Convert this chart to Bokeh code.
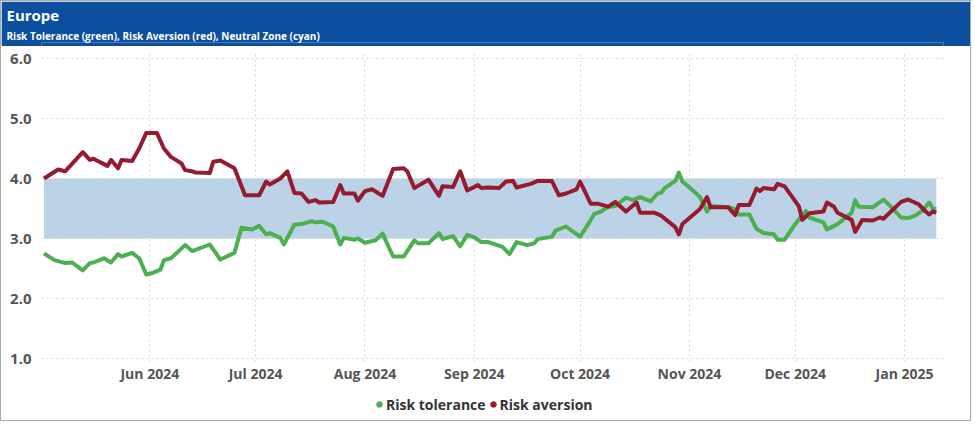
from bokeh.plotting import figure
from bokeh.layouts import column
from bokeh.models import (Range1d, DatetimeTickFormatter, MonthsTicker, FixedTicker,
                          Legend, LegendItem, NumeralTickFormatter, Title)
from bokeh.embed import file_html
from bokeh.resources import INLINE
import pandas as pd

# ---------------- data ----------------
title_text = "Europe"
subtitle_text = "Risk Tolerance (green), Risk Aversion (red), Neutral Zone (cyan)"
y_ticks = [1, 2, 3, 4, 5, 6]
neutral_low = 3.0
neutral_high = 4.0
x_start = "2024-05-01 07:00"
x_end = "2025-01-12 01:00"

red_dates = [
    "2024-05-02", "2024-05-06", "2024-05-08", "2024-05-13", "2024-05-15", "2024-05-16", "2024-05-20",
    "2024-05-21", "2024-05-23", "2024-05-24", "2024-05-27", "2024-05-29", "2024-05-31",
    "2024-06-03", "2024-06-05", "2024-06-07", "2024-06-10", "2024-06-11", "2024-06-13", "2024-06-14",
    "2024-06-18", "2024-06-19", "2024-06-21", "2024-06-25", "2024-06-28",
    "2024-07-02", "2024-07-04", "2024-07-05", "2024-07-08", "2024-07-10", "2024-07-12", "2024-07-14",
    "2024-07-16", "2024-07-18", "2024-07-19", "2024-07-23", "2024-07-25", "2024-07-26", "2024-07-29", "2024-07-30",
    "2024-08-01", "2024-08-03", "2024-08-06", "2024-08-09", "2024-08-12", "2024-08-13", "2024-08-15",
    "2024-08-19", "2024-08-22", "2024-08-23", "2024-08-26", "2024-08-28", "2024-08-30",
    "2024-09-02", "2024-09-03", "2024-09-05", "2024-09-08", "2024-09-10", "2024-09-12", "2024-09-13",
    "2024-09-17", "2024-09-19", "2024-09-23", "2024-09-25", "2024-09-27", "2024-09-30",
    "2024-10-01", "2024-10-04", "2024-10-06", "2024-10-09", "2024-10-11", "2024-10-14", "2024-10-17",
    "2024-10-18", "2024-10-22", "2024-10-24", "2024-10-28", "2024-10-29", "2024-10-30",
    "2024-11-04", "2024-11-06", "2024-11-07", "2024-11-12", "2024-11-14", "2024-11-15", "2024-11-18",
    "2024-11-20", "2024-11-21", "2024-11-22", "2024-11-25", "2024-11-26", "2024-11-28",
    "2024-12-02", "2024-12-03", "2024-12-05", "2024-12-09", "2024-12-10", "2024-12-12", "2024-12-13",
    "2024-12-17", "2024-12-18", "2024-12-20", "2024-12-23", "2024-12-25", "2024-12-26", "2024-12-31",
    "2025-01-02", "2025-01-05", "2025-01-07", "2025-01-08", "2025-01-09", "2025-01-10",
]
red_vals = [
    4.00, 4.15, 4.12, 4.44, 4.31, 4.33, 4.21,
    4.31, 4.17, 4.31, 4.29, 4.50, 4.76,
    4.76, 4.50, 4.36, 4.25, 4.14, 4.12, 4.10,
    4.09, 4.28, 4.30, 4.17, 3.72,
    3.72, 3.95, 3.90, 4.00, 4.12, 3.76, 3.75,
    3.61, 3.64, 3.60, 3.61, 3.89, 3.75, 3.75, 3.63,
    3.79, 3.82, 3.71, 4.16, 4.17, 4.12, 3.84,
    3.98, 3.71, 3.87, 3.86, 4.12, 3.80,
    3.89, 3.84, 3.85, 3.84, 3.95, 3.96, 3.85,
    3.91, 3.96, 3.96, 3.72, 3.75, 3.82,
    3.95, 3.58, 3.58, 3.53, 3.61, 3.45, 3.60,
    3.43, 3.43, 3.38, 3.19, 3.07, 3.24,
    3.49, 3.69, 3.52, 3.52, 3.39, 3.56, 3.56,
    3.83, 3.79, 3.84, 3.82, 3.91, 3.87,
    3.54, 3.31, 3.42, 3.45, 3.60, 3.53, 3.43,
    3.31, 3.11, 3.31, 3.30, 3.35, 3.33, 3.61,
    3.65, 3.57, 3.45, 3.40, 3.45, 3.43,
]

green_dates = [
    "2024-05-02", "2024-05-05", "2024-05-08", "2024-05-10", "2024-05-13", "2024-05-15", "2024-05-16",
    "2024-05-19", "2024-05-21", "2024-05-23", "2024-05-24", "2024-05-27", "2024-05-29", "2024-05-31",
    "2024-06-02", "2024-06-04", "2024-06-05", "2024-06-07", "2024-06-11", "2024-06-13", "2024-06-18",
    "2024-06-21", "2024-06-25", "2024-06-27", "2024-06-30",
    "2024-07-02", "2024-07-04", "2024-07-05", "2024-07-08", "2024-07-09", "2024-07-12", "2024-07-14",
    "2024-07-17", "2024-07-18", "2024-07-20", "2024-07-23", "2024-07-25", "2024-07-26", "2024-07-29", "2024-07-30",
    "2024-08-01", "2024-08-04", "2024-08-06", "2024-08-09", "2024-08-12", "2024-08-15", "2024-08-16",
    "2024-08-19", "2024-08-22", "2024-08-23", "2024-08-26", "2024-08-28", "2024-08-30",
    "2024-09-01", "2024-09-03", "2024-09-05", "2024-09-09", "2024-09-11", "2024-09-13",
    "2024-09-16", "2024-09-18", "2024-09-19", "2024-09-23", "2024-09-24", "2024-09-27",
    "2024-10-01", "2024-10-03", "2024-10-05", "2024-10-07", "2024-10-09", "2024-10-11", "2024-10-14",
    "2024-10-16", "2024-10-18", "2024-10-21", "2024-10-23", "2024-10-24", "2024-10-25", "2024-10-28",
    "2024-10-29", "2024-10-30",
    "2024-11-02", "2024-11-04", "2024-11-06", "2024-11-07", "2024-11-12", "2024-11-14", "2024-11-15",
    "2024-11-18", "2024-11-20", "2024-11-21", "2024-11-22", "2024-11-25", "2024-11-26", "2024-11-28",
    "2024-12-01", "2024-12-04", "2024-12-05", "2024-12-09", "2024-12-10", "2024-12-13", "2024-12-17",
    "2024-12-18", "2024-12-19", "2024-12-23", "2024-12-26", "2024-12-28", "2024-12-31",
    "2025-01-02", "2025-01-04", "2025-01-06", "2025-01-08", "2025-01-09", "2025-01-10",
]
green_vals = [
    2.75, 2.64, 2.59, 2.60, 2.47, 2.59, 2.60,
    2.67, 2.60, 2.74, 2.70, 2.76, 2.67, 2.40,
    2.43, 2.48, 2.64, 2.67, 2.89, 2.79, 2.90,
    2.65, 2.76, 3.18, 3.15,
    3.21, 3.07, 3.09, 3.01, 2.90, 3.23, 3.24,
    3.29, 3.27, 3.28, 3.20, 2.90, 3.01, 2.98, 3.00,
    2.93, 2.97, 3.08, 2.70, 2.70, 2.97, 2.92,
    2.92, 3.09, 2.99, 3.04, 2.87, 3.06,
    3.02, 2.94, 2.94, 2.86, 2.74, 2.94,
    2.89, 2.92, 2.99, 3.03, 3.13, 3.20,
    3.03, 3.21, 3.41, 3.45, 3.53, 3.54, 3.68,
    3.64, 3.69, 3.62, 3.75, 3.76, 3.84, 3.96,
    4.10, 3.95,
    3.80, 3.69, 3.45, 3.54, 3.52, 3.49, 3.40,
    3.40, 3.16, 3.13, 3.09, 3.07, 2.98, 2.98,
    3.24, 3.46, 3.35, 3.27, 3.15, 3.24, 3.43,
    3.64, 3.53, 3.52, 3.65, 3.54, 3.35,
    3.34, 3.38, 3.46, 3.60, 3.50, 3.49,
]

# ---------------- styles ----------------
FONT = "Open Sans"
BLUE = "#0b4f9e"
RED = "#971b2f"
GREEN = "#4caf50"
BAND = "#bcd2e6"
W = 969
TOP_H = 45
MAIN_H = 339
LEG_H = 35
LEFT = 40
RIGHT = 27

red_x = pd.to_datetime(red_dates)
green_x = pd.to_datetime(green_dates)

# ---------------- title bar ----------------
top = figure(width=W, height=TOP_H, x_range=Range1d(0, 1), y_range=Range1d(0, 1),
             toolbar_location=None, output_backend="svg", min_border=0,
             x_axis_location=None, y_axis_location=None,
             outline_line_color=None, background_fill_color=BLUE, border_fill_color=BLUE)
top.grid.visible = False
top.add_layout(Title(text=subtitle_text, align="left", offset=-(LEFT - 5), standoff=0,
                     text_font=FONT, text_font_size="10px", text_font_style="bold",
                     text_color="white"), "above")
top.add_layout(Title(text=title_text, align="left", offset=-(LEFT - 5), standoff=3,
                     text_font=FONT, text_font_size="15px", text_font_style="bold",
                     text_color="white"), "above")

# ---------------- main chart ----------------
p = figure(width=W, height=MAIN_H, x_axis_type="datetime",
           x_range=Range1d(pd.Timestamp(x_start), pd.Timestamp(x_end)),
           y_range=Range1d(0.95, 6.1),
           toolbar_location=None, output_backend="svg",
           min_border_left=LEFT, min_border_right=RIGHT, min_border_top=6, min_border_bottom=0,
           outline_line_color=None, background_fill_color="white", border_fill_color="white")

p.quad(left=[red_x[0]], right=[red_x[-1]], bottom=[neutral_low], top=[neutral_high],
       fill_color=BAND, line_color=None)
p.line(green_x, green_vals, line_color=GREEN, line_width=4, line_join="round")
p.line(red_x, red_vals, line_color=RED, line_width=4, line_join="round")

p.yaxis.ticker = FixedTicker(ticks=y_ticks)
p.yaxis.formatter = NumeralTickFormatter(format="0.0")
p.xaxis.ticker = MonthsTicker(months=list(range(12)))
p.xaxis.formatter = DatetimeTickFormatter(months="%b %Y", days="%b %Y", years="%b %Y")
for ax in (p.xaxis, p.yaxis):
    ax.axis_line_color = None
    ax.major_tick_line_color = None
    ax.minor_tick_line_color = None
    ax.major_tick_out = 0
    ax.major_tick_in = 0
    ax.minor_tick_out = 0
    ax.minor_tick_in = 0
    ax.major_label_text_font = FONT
    ax.major_label_text_font_style = "bold"
    ax.major_label_text_color = "#555555"
p.yaxis.major_label_text_font_size = "15px"
p.xaxis.major_label_text_font_size = "14px"
p.yaxis.major_label_standoff = 10
p.xaxis.major_label_standoff = 2

p.xgrid.grid_line_color = "#d6d6d6"
p.xgrid.grid_line_dash = "2 3"
p.ygrid.grid_line_color = "#d6d6d6"
p.ygrid.grid_line_dash = "2 3"

# ---------------- legend strip ----------------
leg = figure(width=W, height=LEG_H, x_range=Range1d(0, 1), y_range=Range1d(0, 1),
             toolbar_location=None, output_backend="svg", min_border=0,
             x_axis_location=None, y_axis_location=None,
             outline_line_color=None, background_fill_color="white", border_fill_color="white")
leg.grid.visible = False
g_dot = leg.scatter(x=green_x[-1:], y=green_vals[-1:], size=0, fill_color=GREEN, line_color=GREEN)
r_dot = leg.scatter(x=red_x[-1:], y=red_vals[-1:], size=0, fill_color=RED, line_color=RED)
legend = Legend(items=[LegendItem(label="Risk tolerance", renderers=[g_dot]),
                       LegendItem(label="Risk aversion", renderers=[r_dot])],
                orientation="horizontal", location=(331, 6),
                label_text_font=FONT, label_text_font_style="bold",
                label_text_font_size="14px", label_text_color="#333333",
                glyph_width=14, glyph_height=20, label_standoff=0, spacing=0,
                padding=0, margin=0, border_line_color=None, background_fill_alpha=0)
leg.add_layout(legend)

layout = column(top, p, leg, styles={"border": "1px solid #a8a8a8"})

open("out.html", "w").write(file_html(layout, INLINE))
